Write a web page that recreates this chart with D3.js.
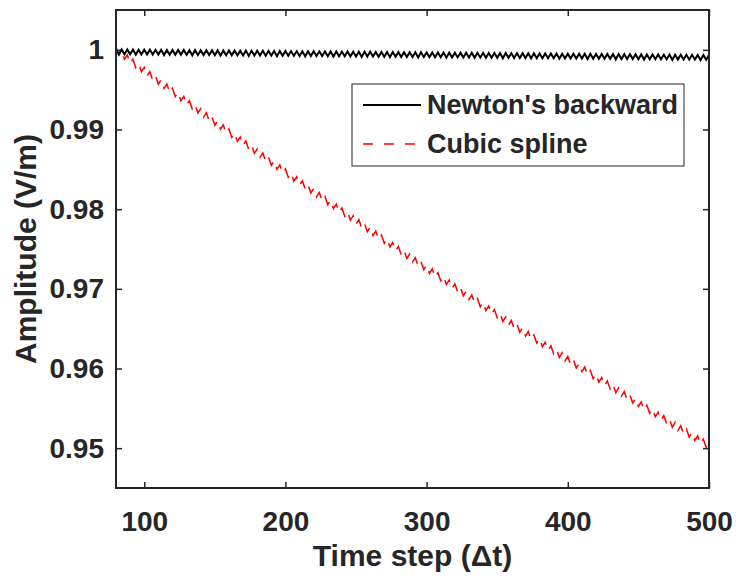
<!DOCTYPE html>
<html>
<head>
<meta charset="utf-8">
<script src="https://cdn.jsdelivr.net/npm/d3@7/dist/d3.min.js"></script>
<style>
  html, body { margin: 0; padding: 0; background: #fff; }
  svg { display: block; }
  text { font-family: "Liberation Sans", Arial, Helvetica, sans-serif; font-weight: bold; fill: #262626; }
</style>
</head>
<body>
<svg id="chart" width="736" height="580"></svg>
<script>
// ---- data ----
const timeSteps = d3.range(80, 501, 2);
const newtonBackward = [
  1.00005,0.99945,1.00004,0.99944,1.00004,0.99943,1.00003,0.99938,1.00002,0.99942,
  1.00002,0.99941,1.00001,0.99941,1.00000,0.99940,1.00000,0.99934,0.99999,0.99939,
  0.99998,0.99938,0.99998,0.99937,0.99997,0.99937,0.99996,0.99931,0.99996,0.99935,
  0.99995,0.99935,0.99994,0.99934,0.99994,0.99933,0.99993,0.99928,0.99992,0.99932,
  0.99992,0.99931,0.99991,0.99931,0.99990,0.99930,0.99990,0.99924,0.99989,0.99929,
  0.99988,0.99928,0.99988,0.99927,0.99987,0.99927,0.99986,0.99921,0.99986,0.99925,
  0.99985,0.99925,0.99984,0.99924,0.99984,0.99923,0.99983,0.99918,0.99982,0.99922,
  0.99982,0.99921,0.99981,0.99921,0.99980,0.99920,0.99980,0.99914,0.99979,0.99919,
  0.99978,0.99918,0.99978,0.99917,0.99977,0.99917,0.99976,0.99911,0.99976,0.99915,
  0.99975,0.99915,0.99974,0.99914,0.99974,0.99913,0.99973,0.99908,0.99972,0.99912,
  0.99972,0.99911,0.99971,0.99911,0.99970,0.99910,0.99970,0.99904,0.99969,0.99909,
  0.99968,0.99908,0.99968,0.99907,0.99967,0.99907,0.99966,0.99901,0.99966,0.99905,
  0.99965,0.99905,0.99964,0.99904,0.99964,0.99903,0.99963,0.99898,0.99962,0.99902,
  0.99962,0.99901,0.99961,0.99901,0.99960,0.99900,0.99960,0.99894,0.99959,0.99899,
  0.99958,0.99898,0.99958,0.99897,0.99957,0.99897,0.99956,0.99891,0.99956,0.99895,
  0.99955,0.99895,0.99954,0.99894,0.99954,0.99893,0.99953,0.99888,0.99952,0.99892,
  0.99952,0.99891,0.99951,0.99891,0.99950,0.99890,0.99950,0.99884,0.99949,0.99889,
  0.99948,0.99888,0.99948,0.99887,0.99947,0.99887,0.99946,0.99881,0.99946,0.99885,
  0.99945,0.99885,0.99944,0.99884,0.99944,0.99883,0.99943,0.99878,0.99942,0.99882,
  0.99942,0.99881,0.99941,0.99881,0.99940,0.99880,0.99940,0.99874,0.99939,0.99879,
  0.99938,0.99878,0.99938,0.99877,0.99937,0.99877,0.99936,0.99871,0.99936,0.99875,
  0.99935
];
const cubicSpline = [
  1.00040,0.99933,0.99988,0.99881,0.99935,0.99829,0.99882,0.99776,0.99830,0.99724,
  0.99778,0.99671,0.99726,0.99619,0.99673,0.99568,0.99622,0.99515,0.99570,0.99464,
  0.99519,0.99413,0.99467,0.99361,0.99415,0.99310,0.99364,0.99258,0.99313,0.99207,
  0.99261,0.99156,0.99211,0.99105,0.99159,0.99054,0.99108,0.99003,0.99058,0.98952,
  0.99007,0.98901,0.98956,0.98851,0.98905,0.98801,0.98855,0.98750,0.98805,0.98700,
  0.98755,0.98650,0.98706,0.98600,0.98655,0.98551,0.98605,0.98500,0.98556,0.98451,
  0.98506,0.98401,0.98456,0.98351,0.98406,0.98302,0.98357,0.98252,0.98308,0.98203,
  0.98259,0.98154,0.98210,0.98105,0.98160,0.98056,0.98112,0.98007,0.98063,0.97959,
  0.98015,0.97910,0.97967,0.97862,0.97918,0.97814,0.97870,0.97765,0.97822,0.97717,
  0.97773,0.97668,0.97725,0.97621,0.97677,0.97573,0.97629,0.97525,0.97582,0.97477,
  0.97533,0.97429,0.97486,0.97382,0.97438,0.97335,0.97391,0.97287,0.97344,0.97240,
  0.97297,0.97193,0.97251,0.97147,0.97203,0.97100,0.97157,0.97053,0.97110,0.97006,
  0.97063,0.96959,0.97017,0.96913,0.96970,0.96867,0.96924,0.96820,0.96878,0.96774,
  0.96831,0.96728,0.96785,0.96682,0.96739,0.96636,0.96693,0.96590,0.96648,0.96545,
  0.96603,0.96499,0.96557,0.96454,0.96511,0.96409,0.96466,0.96363,0.96421,0.96319,
  0.96376,0.96273,0.96331,0.96228,0.96285,0.96184,0.96241,0.96138,0.96197,0.96094,
  0.96151,0.96049,0.96107,0.96005,0.96062,0.95961,0.96018,0.95916,0.95974,0.95872,
  0.95931,0.95828,0.95887,0.95785,0.95842,0.95741,0.95799,0.95697,0.95756,0.95654,
  0.95711,0.95609,0.95668,0.95566,0.95624,0.95523,0.95581,0.95479,0.95538,0.95437,
  0.95495,0.95393,0.95452,0.95350,0.95409,0.95308,0.95366,0.95264,0.95324,0.95222,
  0.95282,0.95180,0.95239,0.95138,0.95196,0.95096,0.95155,0.95053,0.95113,0.95011,
  0.95070
];
const seriesNames = ["Newton's backward", "Cubic spline"];
const xTicks = [100, 200, 300, 400, 500];
const yTicks = [0.95, 0.96, 0.97, 0.98, 0.99, 1];
const yTickLabels = ["0.95", "0.96", "0.97", "0.98", "0.99", "1"];
const xDomain = [80, 500];
const yDomain = [0.945, 1.005];

// ---- layout ----
const W = 736, H = 580;
const margin = { left: 116, right: 27, top: 10, bottom: 92 };
const iw = W - margin.left - margin.right;
const ih = H - margin.top - margin.bottom;
const axisColor = "#262626";

const svg = d3.select("#chart");
const g = svg.append("g").attr("transform", `translate(${margin.left},${margin.top})`);

const x = d3.scaleLinear().domain(xDomain).range([0, iw]);
const y = d3.scaleLinear().domain(yDomain).range([ih, 0]);

svg.append("defs").append("clipPath").attr("id", "plotclip")
  .append("rect").attr("x", 0).attr("y", 0).attr("width", iw).attr("height", ih);

// axes
const tickLen = 6;
const fontSize = 28;
const styleAxis = sel => {
  sel.select(".domain").remove();
  sel.selectAll(".tick line").attr("stroke", axisColor).attr("stroke-width", 1.5);
  sel.selectAll(".tick text").style("font-size", fontSize + "px").attr("fill", axisColor);
};

g.append("g").attr("transform", `translate(0,${ih})`)
  .call(d3.axisBottom(x).tickValues(xTicks).tickFormat(d3.format("d")).tickSize(-tickLen).tickPadding(23))
  .call(styleAxis);
g.append("g")
  .call(d3.axisTop(x).tickValues(xTicks).tickFormat("").tickSize(-tickLen))
  .call(styleAxis);
g.append("g")
  .call(d3.axisLeft(y).tickValues(yTicks).tickFormat((d, i) => yTickLabels[i]).tickSize(-tickLen).tickPadding(12))
  .call(styleAxis);
g.append("g").attr("transform", `translate(${iw},0)`)
  .call(d3.axisRight(y).tickValues(yTicks).tickFormat("").tickSize(-tickLen))
  .call(styleAxis);

// lines
const plot = g.append("g").attr("clip-path", "url(#plotclip)");
const lineGen = d3.line().x((d, i) => x(timeSteps[i])).y(d => y(d));

plot.append("path").datum(cubicSpline)
  .attr("d", lineGen)
  .attr("fill", "none").attr("stroke", "#ff0000").attr("stroke-width", 1.5)
  .attr("stroke-dasharray", "12,8");

plot.append("path").datum(newtonBackward)
  .attr("d", lineGen)
  .attr("fill", "none").attr("stroke", "#000000").attr("stroke-width", 2);

// frame
g.append("rect").attr("x", 0).attr("y", 0).attr("width", iw).attr("height", ih)
  .attr("fill", "none").attr("stroke", axisColor).attr("stroke-width", 2);

// axis titles
svg.append("text")
  .attr("x", margin.left + iw / 2).attr("y", 566)
  .attr("text-anchor", "middle")
  .style("font-size", "30px")
  .text("Time step (\u0394t)");

svg.append("text")
  .attr("transform", `translate(36,${margin.top + ih / 2}) rotate(-90)`)
  .attr("text-anchor", "middle")
  .style("font-size", "30px")
  .text("Amplitude (V/m)");

// legend
const lg = svg.append("g").attr("transform", "translate(352,84)");
lg.append("rect").attr("x", 0).attr("y", 0).attr("width", 332).attr("height", 82)
  .attr("fill", "#fff").attr("stroke", axisColor).attr("stroke-width", 1);
const legendItems = [
  { name: seriesNames[0], color: "#000", dash: null, width: 2, yy: 21 },
  { name: seriesNames[1], color: "#ff0000", dash: "10,11", width: 1.5, yy: 60 }
];
legendItems.forEach(it => {
  lg.append("line").attr("x1", 11).attr("x2", 69).attr("y1", it.yy).attr("y2", it.yy)
    .attr("stroke", it.color).attr("stroke-width", it.width)
    .attr("stroke-dasharray", it.dash);
  lg.append("text").attr("x", 75).attr("y", it.yy + 9)
    .style("font-size", "27px").attr("fill", "#000")
    .text(it.name);
});
</script>
</body>
</html>
